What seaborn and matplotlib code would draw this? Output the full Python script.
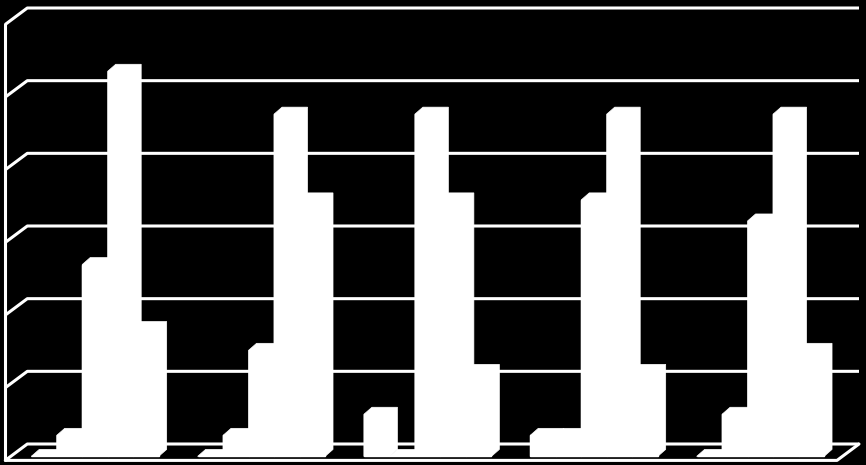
import matplotlib
matplotlib.use('Agg')
import matplotlib.pyplot as plt
from matplotlib.patches import Polygon
import seaborn as sns
import pandas as pd

# valores (unidade = uma linha de grade)
grupos = ['G1', 'G2', 'G3', 'G4', 'G5']
serie1 = [0, 0, 0.58, 0.29, 0]
serie2 = [0.29, 0.29, 0, 0.29, 0.58]
serie3 = [2.64, 1.46, 4.71, 3.53, 3.24]
serie4 = [5.30, 4.71, 3.53, 4.71, 4.71]
serie5 = [1.76, 3.53, 1.17, 1.17, 1.46]
niveis = [0, 1, 2, 3, 4, 5, 6]

W, H = 866, 465
esq, dir_, base, topo = 5.3, 837, 460.4, 24.4
px_x = (dir_ - esq) / 5
px_y = (base - topo) / 6
# barras ficam no meio da profundidade do piso
piso = (base - 456.4) / px_y
recuo = 6.5 / px_x

df = pd.DataFrame({
    'grupo': grupos * 5,
    'serie': sum([[s] * 5 for s in ['s1', 's2', 's3', 's4', 's5']], []),
    'valor': serie1 + serie2 + serie3 + serie4 + serie5,
})

sns.set_theme(style='white')
fig = plt.figure(figsize=(W / 100, H / 100), dpi=100, facecolor='black')
ax = fig.add_axes([esq / W, 1 - base / H, (dir_ - esq) / W, (base - topo) / H])

sns.barplot(data=df, x='grupo', y='valor', hue='serie', palette=['white'] * 5,
            width=0.766, gap=0, saturation=1, legend=False, ax=ax, zorder=3)
xa, xb = -0.5 - recuo, 4.5 - recuo
ax.set_xlim(xa, xb)
ax.set_ylim(-piso, 6 - piso)
ax.set_axis_off()

# efeito 3D das barras
prof_x, prof_y = 8 / px_x, 7 / px_y
for p in list(ax.patches):
    x0, y1, w = p.get_x(), p.get_height(), p.get_width()
    x1 = x0 + w
    ax.add_patch(Polygon(
        [(x0, 0), (x0, y1), (x0 + prof_x, y1 + prof_y), (x1 + prof_x, y1 + prof_y),
         (x1 + prof_x, prof_y), (x1, 0)],
        closed=True, fc='white', ec='white', lw=0.5, zorder=3))

# paredes e grade
parede_x, parede_y = 22 / px_x, 16.4 / px_y
lw = 2.2
for n in niveis:
    y = n - piso
    ax.plot([xa, xa + parede_x, xb + parede_x], [y, y + parede_y, y + parede_y],
            color='white', lw=lw, clip_on=False, zorder=1, solid_capstyle='butt')
ax.plot([xa, xa], [-piso, 6 - piso], color='white', lw=lw, clip_on=False, zorder=1)
ax.plot([xa, xb, xb + parede_x], [-piso, -piso, parede_y - piso],
        color='white', lw=lw, clip_on=False, zorder=4)

fig.savefig('out.png', dpi=100)
